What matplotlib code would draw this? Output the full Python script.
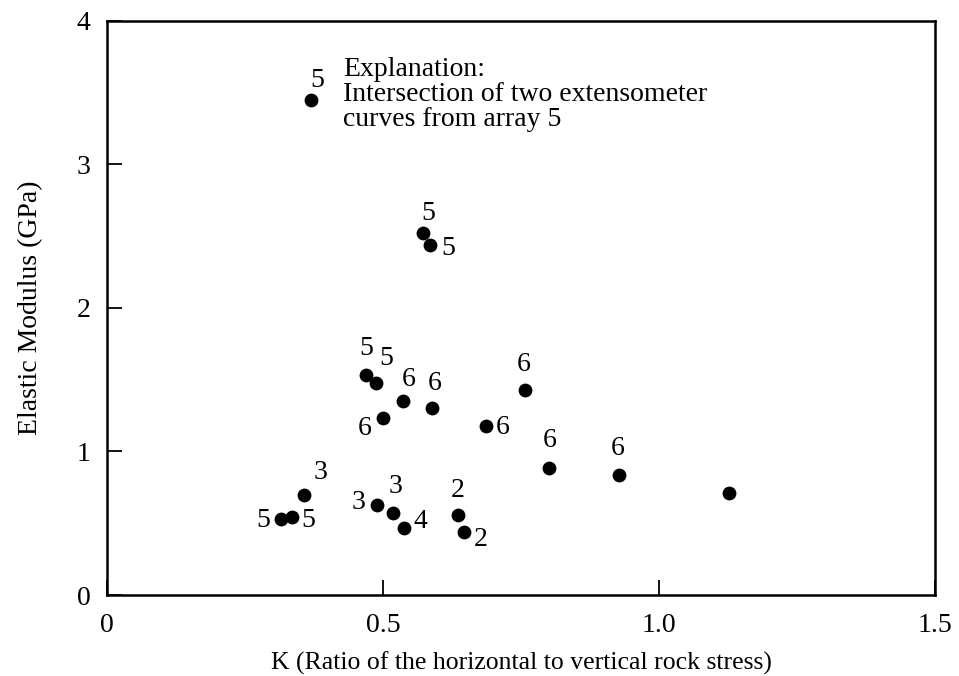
import matplotlib
matplotlib.use("Agg")
import matplotlib.pyplot as plt

plt.rcParams['font.family'] = ['Liberation Serif', 'DejaVu Serif']

# K ratio, elastic modulus (GPa), array number labels
k_vals = [0.572, 0.585, 0.469, 0.488, 0.537, 0.588, 0.500, 0.686, 0.757,
          0.356, 0.316, 0.335, 0.489, 0.518, 0.538, 0.635, 0.646,
          0.800, 0.927, 1.127]
modulus = [2.52, 2.44, 1.53, 1.48, 1.35, 1.30, 1.23, 1.18, 1.43,
           0.70, 0.53, 0.545, 0.627, 0.569, 0.464, 0.557, 0.437,
           0.882, 0.836, 0.708]
arrays = ['5', '5', '5', '5', '6', '6', '6', '6', '6',
          '3', '5', '5', '3', '3', '4', '2', '2',
          '6', '6', '']
# label offsets in points (dx, dy)
offsets = [(4, 14), (13, -3), (0, 19), (7, 17), (4, 16), (2, 18), (-13, -7), (12, -1), (-1, 18),
           (12, 16), (-13, -1), (12, -3), (-13, 2), (2, 19), (12, 5), (0, 18), (12, -5),
           (1, 20), (-1, 19), (0, 0)]

# explanation marker
expl_k = [0.370]
expl_mod = [3.45]

fig = plt.figure(figsize=(9.59, 6.76), dpi=100)
ax = fig.add_axes([0.1116, 0.1198, 0.8634, 0.8494])

ax.scatter(k_vals, modulus, s=80, color='black', zorder=3)
for x, y, lab, off in zip(k_vals, modulus, arrays, offsets):
    if lab:
        ax.annotate(lab, (x, y), xytext=off, textcoords='offset points',
                    ha='center', va='center', fontsize=20)

ax.scatter(expl_k, expl_mod, s=80, color='black', zorder=3)
ax.annotate('5', (expl_k[0], expl_mod[0]), xytext=(4, 14), textcoords='offset points',
            ha='center', va='center', fontsize=20)
ax.text(0.4275, 3.75, 'Explanation:\nIntersection of two extensometer\ncurves from array 5',
        ha='left', va='top', fontsize=20, linespacing=1.0)

ax.set_xlim(0, 1.5)
ax.set_ylim(0, 4)
ax.set_xticks([0, 0.5, 1.0, 1.5])
ax.set_xticklabels(['0', '0.5', '1.0', '1.5'])
ax.set_yticks([0, 1, 2, 3, 4])
ax.tick_params(direction='in', length=11, width=1.3, labelsize=20)
ax.tick_params(axis='x', pad=13)
ax.tick_params(axis='y', pad=12)
for sp in ax.spines.values():
    sp.set_linewidth(1.8)

ax.set_xlabel('K (Ratio of the horizontal to vertical rock stress)', fontsize=18.5, labelpad=10)
ax.set_ylabel('Elastic Modulus (GPa)', fontsize=20, labelpad=24)

fig.savefig('out.png', dpi=100)
